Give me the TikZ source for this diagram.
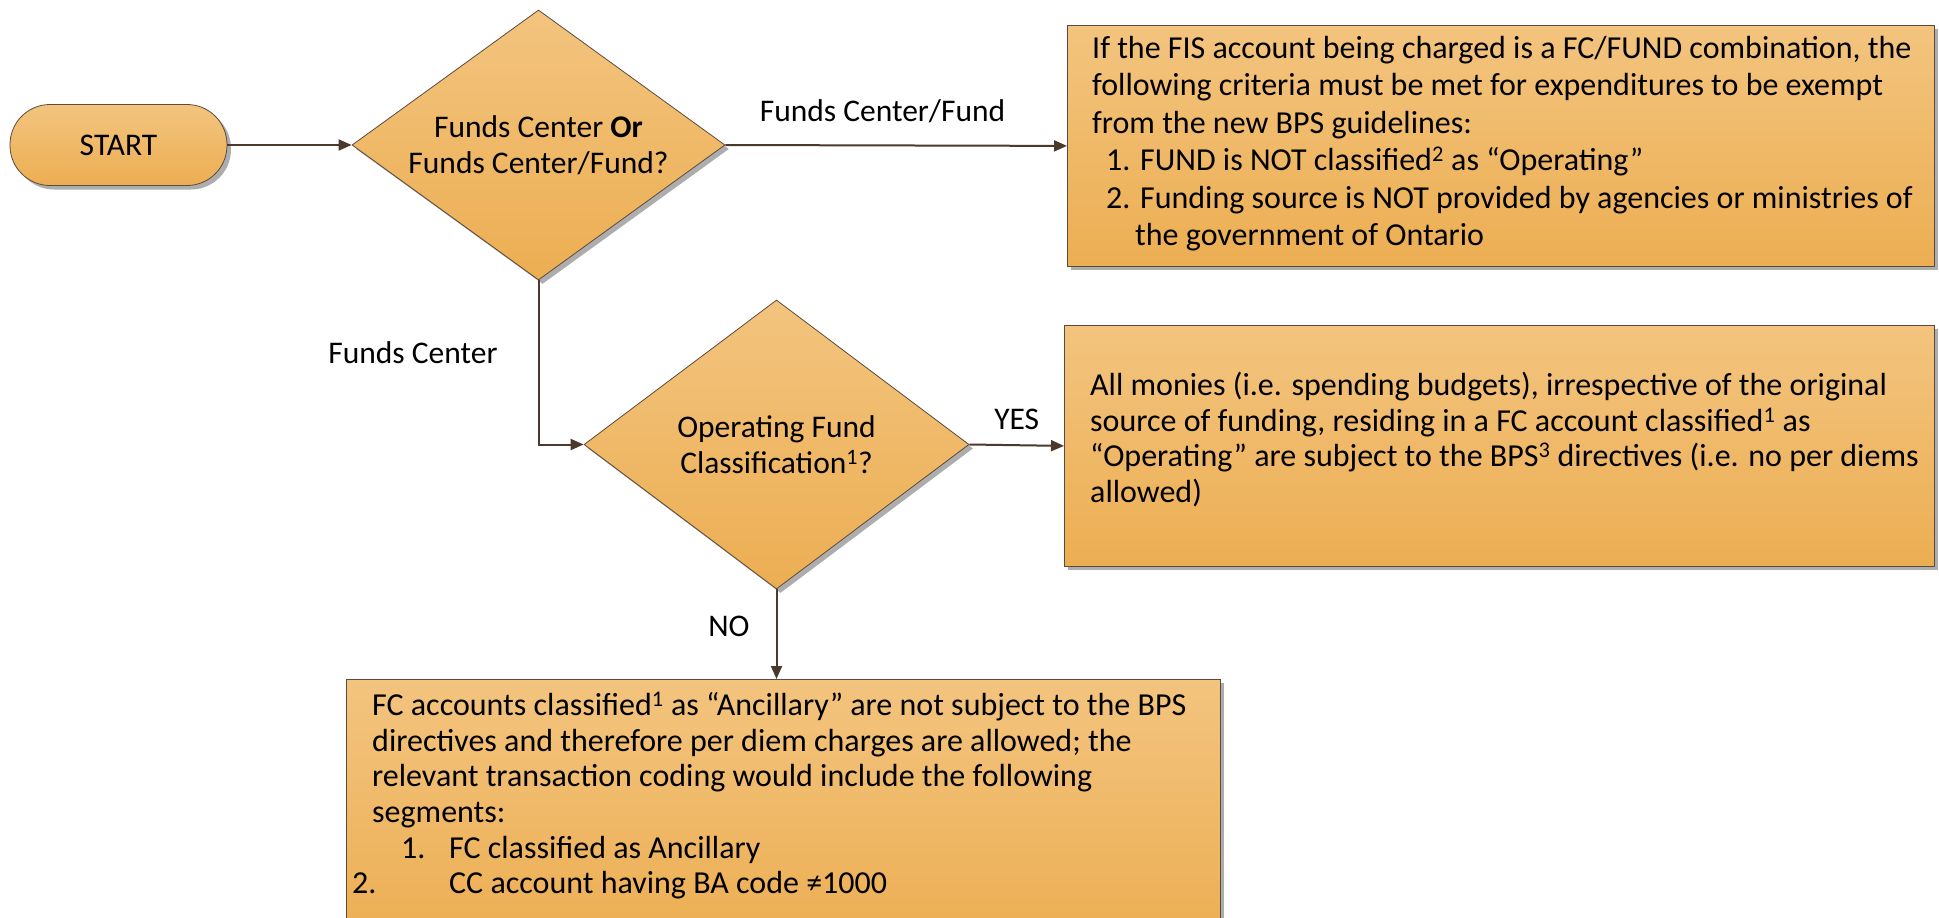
\documentclass[tikz,border=0pt]{standalone}
\usepackage{fontspec}
\setmainfont{Carlito}
\usetikzlibrary{shapes.geometric,arrows.meta,shadows}
\definecolor{ftop}{HTML}{F3C47F}
\definecolor{fbot}{HTML}{ECAE52}
\definecolor{edgec}{HTML}{5C4A3C}
\definecolor{connc}{HTML}{4A392C}
\begin{document}
\begin{tikzpicture}[x=1pt,y=-1pt,
  shapebase/.style={draw=edgec, line width=0.8pt, top color=ftop, bottom color=fbot,
     drop shadow={shadow xshift=4pt, shadow yshift=-4pt, fill=black!40, opacity=0.8},
     inner sep=0pt, font=\fontsize{31.5}{36}\selectfont},
  boxshape/.style={shapebase, rectangle, anchor=north west},
  decision/.style={shapebase, diamond, align=center, inner xsep=-40pt, inner ysep=-20pt},
  conn/.style={draw=connc, line width=2pt, -{Triangle[length=13pt,width=11pt]}},
  lbl/.style={font=\fontsize{31.5}{36}\selectfont, inner sep=0pt, text=black},
  txt/.style={align=left, inner sep=0pt, anchor=north west}
]
\useasboundingbox (0,0) rectangle (1939,918);

% shapes
\node[shapebase, rectangle, rounded corners=40pt, minimum width=217pt, minimum height=81pt] (start) at (118.5,145) {START};
\node[decision, minimum width=373pt, minimum height=270pt] (d1) at (538.5,145) {Funds Center \textbf{Or}\\Funds Center/Fund?};
\node[decision, minimum width=385pt, minimum height=289pt] (d2) at (776.5,444.5) {Operating Fund\\Classification\textsuperscript{1}?};
\node[boxshape, minimum width=867pt, minimum height=241pt] (b1) at (1067,25) {};
\node[boxshape, minimum width=870pt, minimum height=241pt] (b2) at (1064,325) {};
\node[boxshape, minimum width=874pt, minimum height=262pt] (b3) at (346,679) {};

% texts
\node[txt, font=\fontsize{32}{37.5}\selectfont] (t1) at (1092,36) {If the FIS account being charged is a FC/FUND combination, the\\
following criteria must be met for expenditures to be exempt\\
from the new BPS guidelines:\\
\hspace*{14pt}1. FUND is NOT classified\textsuperscript{2} as “Operating”\\
\hspace*{14pt}2. Funding source is NOT provided by agencies or ministries of\\
\hspace*{43pt}the government of Ontario};
\node[txt, font=\fontsize{32}{35.5}\selectfont] (t2) at (1090,372) {All monies (i.e. spending budgets), irrespective of the original\\
source of funding, residing in a FC account classified\textsuperscript{1} as\\
“Operating” are subject to the BPS\textsuperscript{3} directives (i.e. no per diems\\
allowed)};
\node[txt, font=\fontsize{32}{35.6}\selectfont] (t3) at (372,692) {FC accounts classified\textsuperscript{1} as “Ancillary” are not subject to the BPS\\
directives and therefore per diem charges are allowed; the\\
relevant transaction coding would include the following\\
segments:\\
\hspace*{29pt}\makebox[48pt][l]{1.}FC classified as Ancillary\\
\hspace*{-20pt}\makebox[97pt][l]{2.}CC account having BA code ≠1000};

% connectors
\draw[conn] (start.east) -- (d1.west);
\draw[conn] (d1.east) -- node[lbl, pos=0.46, yshift=34pt] {Funds Center/Fund} (b1.west);
\draw[conn] (d1.south) |- node[lbl, pos=0.22, anchor=east, xshift=-40pt] {Funds Center} (d2.west);
\draw[conn] (d2.east) -- node[lbl, yshift=26pt] {YES} (b2.west);
\draw[conn] (d2.south) -- node[lbl, pos=0.41, anchor=east, xshift=-26pt] {NO} (d2.south |- b3.north);
\end{tikzpicture}
\end{document}
